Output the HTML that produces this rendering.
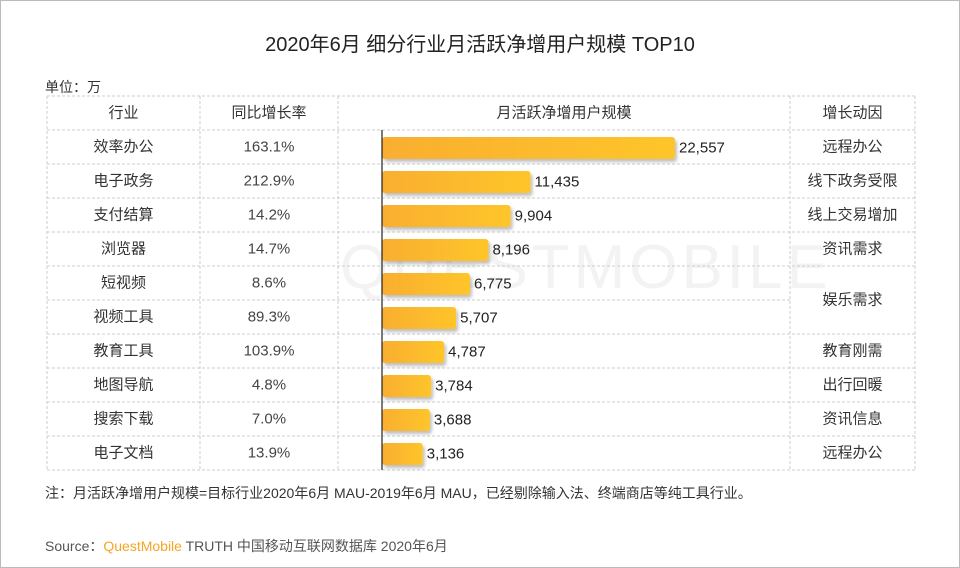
<!DOCTYPE html>
<html><head><meta charset="utf-8"><style>
body{margin:0;width:960px;height:568px;background:#fff;font-family:"Liberation Sans","Noto Sans CJK SC",sans-serif;color:#333;position:relative;overflow:hidden}
.frame{position:absolute;left:0;top:0;width:958px;height:566px;border:1px solid #bbb}
.t{position:absolute;white-space:nowrap}
.c{text-align:center}
</style></head><body>
<div class="frame"></div>
<div class="t" style="left:340px;top:232px;font-size:62px;color:#f3f3f3;letter-spacing:4px">QUESTMOBILE</div>
<div class="t c" style="left:0;width:960px;top:28px;font-size:20px;color:#222">2020年6月 细分行业月活跃净增用户规模 TOP10</div>
<div class="t" style="left:45px;top:77px;font-size:14px">单位：万</div>
<svg id="chart" width="960" height="568" style="position:absolute;left:0;top:0"></svg>
<div class="t" style="left:45px;top:483px;font-size:14px">注：月活跃净增用户规模=目标行业2020年6月 MAU-2019年6月 MAU，已经剔除输入法、终端商店等纯工具行业。</div>
<div class="t" style="left:45px;top:536px;font-size:14px;color:#555">Source：<span style="color:#f5a623">QuestMobile</span> TRUTH 中国移动互联网数据库 2020年6月</div>
<script>
const industries=["效率办公","电子政务","支付结算","浏览器","短视频","视频工具","教育工具","地图导航","搜索下载","电子文档"];
const growth=["163.1%","212.9%","14.2%","14.7%","8.6%","89.3%","103.9%","4.8%","7.0%","13.9%"];
const values=[22557,11435,9904,8196,6775,5707,4787,3784,3688,3136];
const drivers=["远程办公","线下政务受限","线上交易增加","资讯需求","娱乐需求","","教育刚需","出行回暖","资讯信息","远程办公"];
const headers=["行业","同比增长率","月活跃净增用户规模","增长动因"];
const svg=document.getElementById('chart');const NS="http://www.w3.org/2000/svg";
function mk(t,a,p){const e=document.createElementNS(NS,t);for(const k in a)e.setAttribute(k,a[k]);(p||svg).appendChild(e);return e;}
const cols=[47,200,338,790,915],top0=96,hdrH=34,rowH=34,x0=382,sc=293/22557;
const xS=v=>x0+v*sc,yR=i=>top0+hdrH+i*rowH;
const defs=mk('defs',{});
const g=mk('linearGradient',{id:'gr',x1:0,x2:1,y1:0,y2:0},defs);
mk('stop',{offset:0,'stop-color':'#f9ae30'},g);mk('stop',{offset:1,'stop-color':'#fec52b'},g);
const f=mk('filter',{id:'sh',x:'-5%',y:'-20%',width:'115%',height:'160%'},defs);
mk('feDropShadow',{dx:2,dy:3,stdDeviation:1.5,'flood-color':'#000','flood-opacity':0.25},f);
const ln={stroke:'#ccc','stroke-dasharray':'3,2','stroke-width':1};
const bottom=yR(10);
for(let i=0;i<=11;i++){const y=i==0?top0:yR(i-1);
 if(i==6){mk('line',Object.assign({x1:cols[0],x2:cols[3],y1:y,y2:y},ln));}
 else mk('line',Object.assign({x1:cols[0],x2:cols[4],y1:y,y2:y},ln));}
cols.forEach(x=>mk('line',Object.assign({x1:x,x2:x,y1:top0,y2:bottom},ln)));
function txt(s,x,y,o){const e=mk('text',Object.assign({x:x,y:y,'font-size':15,fill:'#333','text-anchor':'middle','dominant-baseline':'central','font-family':'Liberation Sans, Noto Sans CJK SC, sans-serif'},o||{}));e.textContent=s;return e;}
headers.forEach((h,j)=>{const e=txt(h,(cols[j]+cols[j+1])/2,top0+hdrH/2,{'font-size':15});

});
values.forEach((v,i)=>{const cy=yR(i)+rowH/2;
 const a=txt(industries[i],(cols[0]+cols[1])/2,cy);
 
 
 const b=txt(growth[i],(cols[1]+cols[2])/2,cy,{fill:'#444'});
 
 
 const r=mk('rect',{x:x0,y:yR(i)+7,width:xS(v)-x0,height:22,rx:3,fill:'url(#gr)',filter:'url(#sh)'});
 
 
 const l=txt(v.toLocaleString('en-US'),xS(v)+4,cy+1,{'text-anchor':'start','font-size':15,fill:'#222'});
 
 
 if(drivers[i]){const cyd=i==4?yR(5):cy;const d=txt(drivers[i],(cols[3]+cols[4])/2,cyd);
 
 }
});
mk('line',{x1:x0,x2:x0,y1:yR(0),y2:bottom,stroke:'#222','stroke-width':1.2});
</script>
</body></html>
